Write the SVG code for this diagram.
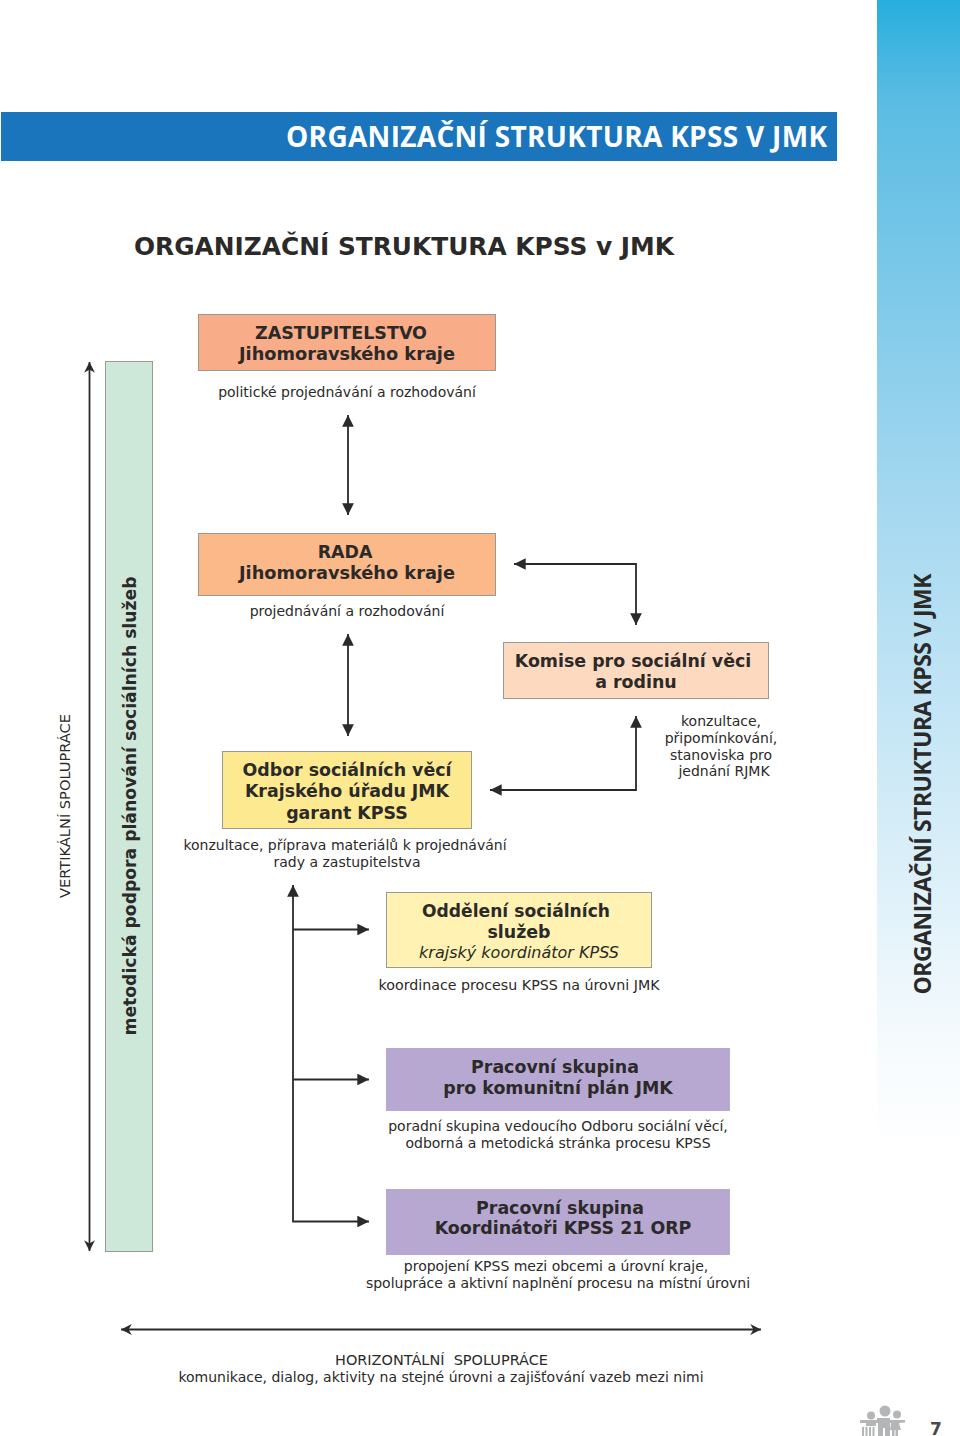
<svg xmlns="http://www.w3.org/2000/svg" width="960" height="1436" viewBox="0 0 960 1436">
<style>
.t{font-family:"DejaVu Sans",Verdana,sans-serif;font-size:14px;fill:#2b2a29;text-anchor:middle}
.b{font-family:"DejaVu Sans",Verdana,sans-serif;font-size:17.400px;font-weight:bold;fill:#2b2a29;text-anchor:middle}
.i{font-style:italic;font-weight:normal;font-size:16px}
.box{stroke:#9a9a92;stroke-width:1}
.c{fill:none;stroke:#2b2a29;stroke-width:1.8}
.fig{fill:#b4b5b6}
</style>
<defs>
<linearGradient id="side" x1="0" y1="0" x2="0" y2="1"><stop offset="0" stop-color="#27aede"/><stop offset=".07" stop-color="#5bbce3"/><stop offset=".35" stop-color="#a5d8f0"/><stop offset=".72" stop-color="#f4fafd"/><stop offset=".8" stop-color="#fff"/></linearGradient>
<marker id="a" viewBox="0 0 10 10" refX="10" refY="5" markerWidth="6.500" markerHeight="6.500" orient="auto-start-reverse"><path d="M0 0L10 5L0 10z" fill="#2b2a29"/></marker>
<marker id="s" viewBox="0 0 10 10" refX="10" refY="5" markerWidth="6" markerHeight="6" orient="auto-start-reverse"><path d="M0 0L10 5L0 10L3 5z" fill="#2b2a29"/></marker>
</defs>
<rect id="side-band" x="877" y="0" width="83" height="1436" fill="url(#side)"/>
<g id="header"><rect x="1" y="112" width="836" height="49" fill="#1a75bc"/>
<text x="827" y="147" text-anchor="end" font-family="'Open Sans',sans-serif" font-weight="700" font-size="28" fill="#fff" textLength="541">ORGANIZAČNÍ STRUKTURA KPSS V JMK</text></g>
<text id="title" x="404" y="255" text-anchor="middle" font-family="'DejaVu Sans',sans-serif" font-weight="bold" font-size="25" fill="#2b2a29" textLength="540" lengthAdjust="spacingAndGlyphs">ORGANIZAČNÍ STRUKTURA KPSS v JMK</text>
<g id="connectors">
<path class="c" d="M89.500 1251V362" marker-start="url(#s)" marker-end="url(#s)"/>
<path class="c" d="M348 515V415" marker-start="url(#a)" marker-end="url(#a)"/>
<path class="c" d="M348 736V634" marker-start="url(#a)" marker-end="url(#a)"/>
<path class="c" d="M514 564H636V625" marker-start="url(#a)" marker-end="url(#a)"/>
<path class="c" d="M490 790H636V716" marker-start="url(#a)" marker-end="url(#a)"/>
<path class="c" d="M293 885V1221.500H369" marker-start="url(#a)" marker-end="url(#a)"/>
<path class="c" d="M293 929.500H369" marker-end="url(#a)"/>
<path class="c" d="M293 1079.500H369" marker-end="url(#a)"/>
<path class="c" d="M121 1329.500H761" marker-start="url(#s)" marker-end="url(#s)"/>
</g>
<g id="vertical-label"><text class="t" transform="translate(70 806) rotate(-90)" textLength="184" lengthAdjust="spacingAndGlyphs">VERTIKÁLNÍ SPOLUPRÁCE</text></g>
<g id="metodicka"><rect class="box" x="105.500" y="361.500" width="47" height="890" fill="#cde8d9"/>
<text class="b" transform="translate(136 806) rotate(-90)" textLength="459" lengthAdjust="spacingAndGlyphs">metodická podpora plánování sociálních služeb</text></g>
<g id="zastupitelstvo"><rect class="box" x="198.500" y="314.500" width="297" height="56" fill="#f9ac88"/>
<text class="b" x="341" y="339" textLength="172" lengthAdjust="spacingAndGlyphs">ZASTUPITELSTVO</text><text class="b" x="347" y="360" textLength="216" lengthAdjust="spacingAndGlyphs">Jihomoravského kraje</text>
<text class="t" x="347" y="397">politické projednávání a rozhodování</text></g>
<g id="rada"><rect class="box" x="198.500" y="533.500" width="297" height="62" fill="#fbb98a"/>
<text class="b" x="345" y="558">RADA</text><text class="b" x="347" y="579" textLength="216" lengthAdjust="spacingAndGlyphs">Jihomoravského kraje</text>
<text class="t" x="347" y="616">projednávání a rozhodování</text></g>
<g id="komise"><rect class="box" x="503.500" y="642.500" width="265" height="56" fill="#fddabf"/>
<text class="b" x="633" y="667">Komise pro sociální věci</text><text class="b" x="636" y="688">a rodinu</text>
<text class="t" x="721" y="725.500">konzultace,</text><text class="t" x="721" y="742.500">připomínkování,</text><text class="t" x="721" y="759.500">stanoviska pro</text><text class="t" x="724" y="775.500">jednání RJMK</text></g>
<g id="odbor"><rect class="box" x="222.500" y="751.500" width="249" height="77" fill="#fde98f"/>
<text class="b" x="347" y="776">Odbor sociálních věcí</text><text class="b" x="347" y="797">Krajského úřadu JMK</text><text class="b" x="347" y="819">garant KPSS</text>
<text class="t" x="345" y="850">konzultace, příprava materiálů k projednávání</text><text class="t" x="347" y="867">rady a zastupitelstva</text></g>
<g id="oddeleni"><rect class="box" x="386.500" y="892.500" width="265" height="75" fill="#fff2b3"/>
<text class="b" x="516" y="917" textLength="188" lengthAdjust="spacingAndGlyphs">Oddělení sociálních</text><text class="b" x="519" y="938">služeb</text><text class="b i" x="519" y="958">krajský koordinátor KPSS</text>
<text class="t" x="519" y="990" textLength="281" lengthAdjust="spacingAndGlyphs">koordinace procesu KPSS na úrovni JMK</text></g>
<g id="skupina-kp"><rect x="386" y="1048" width="344" height="63" fill="#b6a8d1"/>
<text class="b" x="555" y="1073">Pracovní skupina</text><text class="b" x="558" y="1094">pro komunitní plán JMK</text>
<text class="t" x="558" y="1131">poradní skupina vedoucího Odboru sociální věcí,</text><text class="t" x="558" y="1148">odborná a metodická stránka procesu KPSS</text></g>
<g id="skupina-orp"><rect x="386" y="1189" width="344" height="66" fill="#b6a8d1"/>
<text class="b" x="560" y="1214">Pracovní skupina</text><text class="b" x="563" y="1234">Koordinátoři KPSS 21 ORP</text>
<text class="t" x="556" y="1271">propojení KPSS mezi obcemi a úrovní kraje,</text><text class="t" x="558" y="1288">spolupráce a aktivní naplnění procesu na místní úrovni</text></g>
<g id="horizontal"><text class="t" x="441.500" y="1365" xml:space="preserve" textLength="213" lengthAdjust="spacingAndGlyphs">HORIZONTÁLNÍ  SPOLUPRÁCE</text><text class="t" x="441" y="1381.500">komunikace, dialog, aktivity na stejné úrovni a zajišťování vazeb mezi nimi</text></g>
<text id="side-title" transform="translate(931 784) rotate(-90)" text-anchor="middle" font-family="'Open Sans',sans-serif" font-weight="700" font-size="23" fill="#2b2a29" textLength="421">ORGANIZAČNÍ STRUKTURA KPSS V JMK</text>
<g id="footer-icon" class="fig"><circle cx="871" cy="1415.500" r="4"/><circle cx="885" cy="1411" r="5.500"/><circle cx="897" cy="1414.500" r="4"/>
<path d="M860 1420h20v3h-4v3h-10v-3h-6z"/>
<path d="M862 1427h2v9h-2zM865.500 1427h2v9h-2zM869 1427h2v9h-2zM872.500 1427h2v9h-2z"/>
<path d="M877 1418h13v18h-5v-8h-2v8h-5v-12l-1-3z"/>
<path d="M890 1420h15v2.500l-6 .5 2 7h-3v6h-2.500v-6h-1v6h-2.500v-6h-2l1-7-1 0z"/></g>
<text id="page-number" x="936" y="1434.500" text-anchor="middle" font-family="'DejaVu Sans',sans-serif" font-weight="bold" font-size="17" fill="#4a4a4a">7</text>
</svg>
